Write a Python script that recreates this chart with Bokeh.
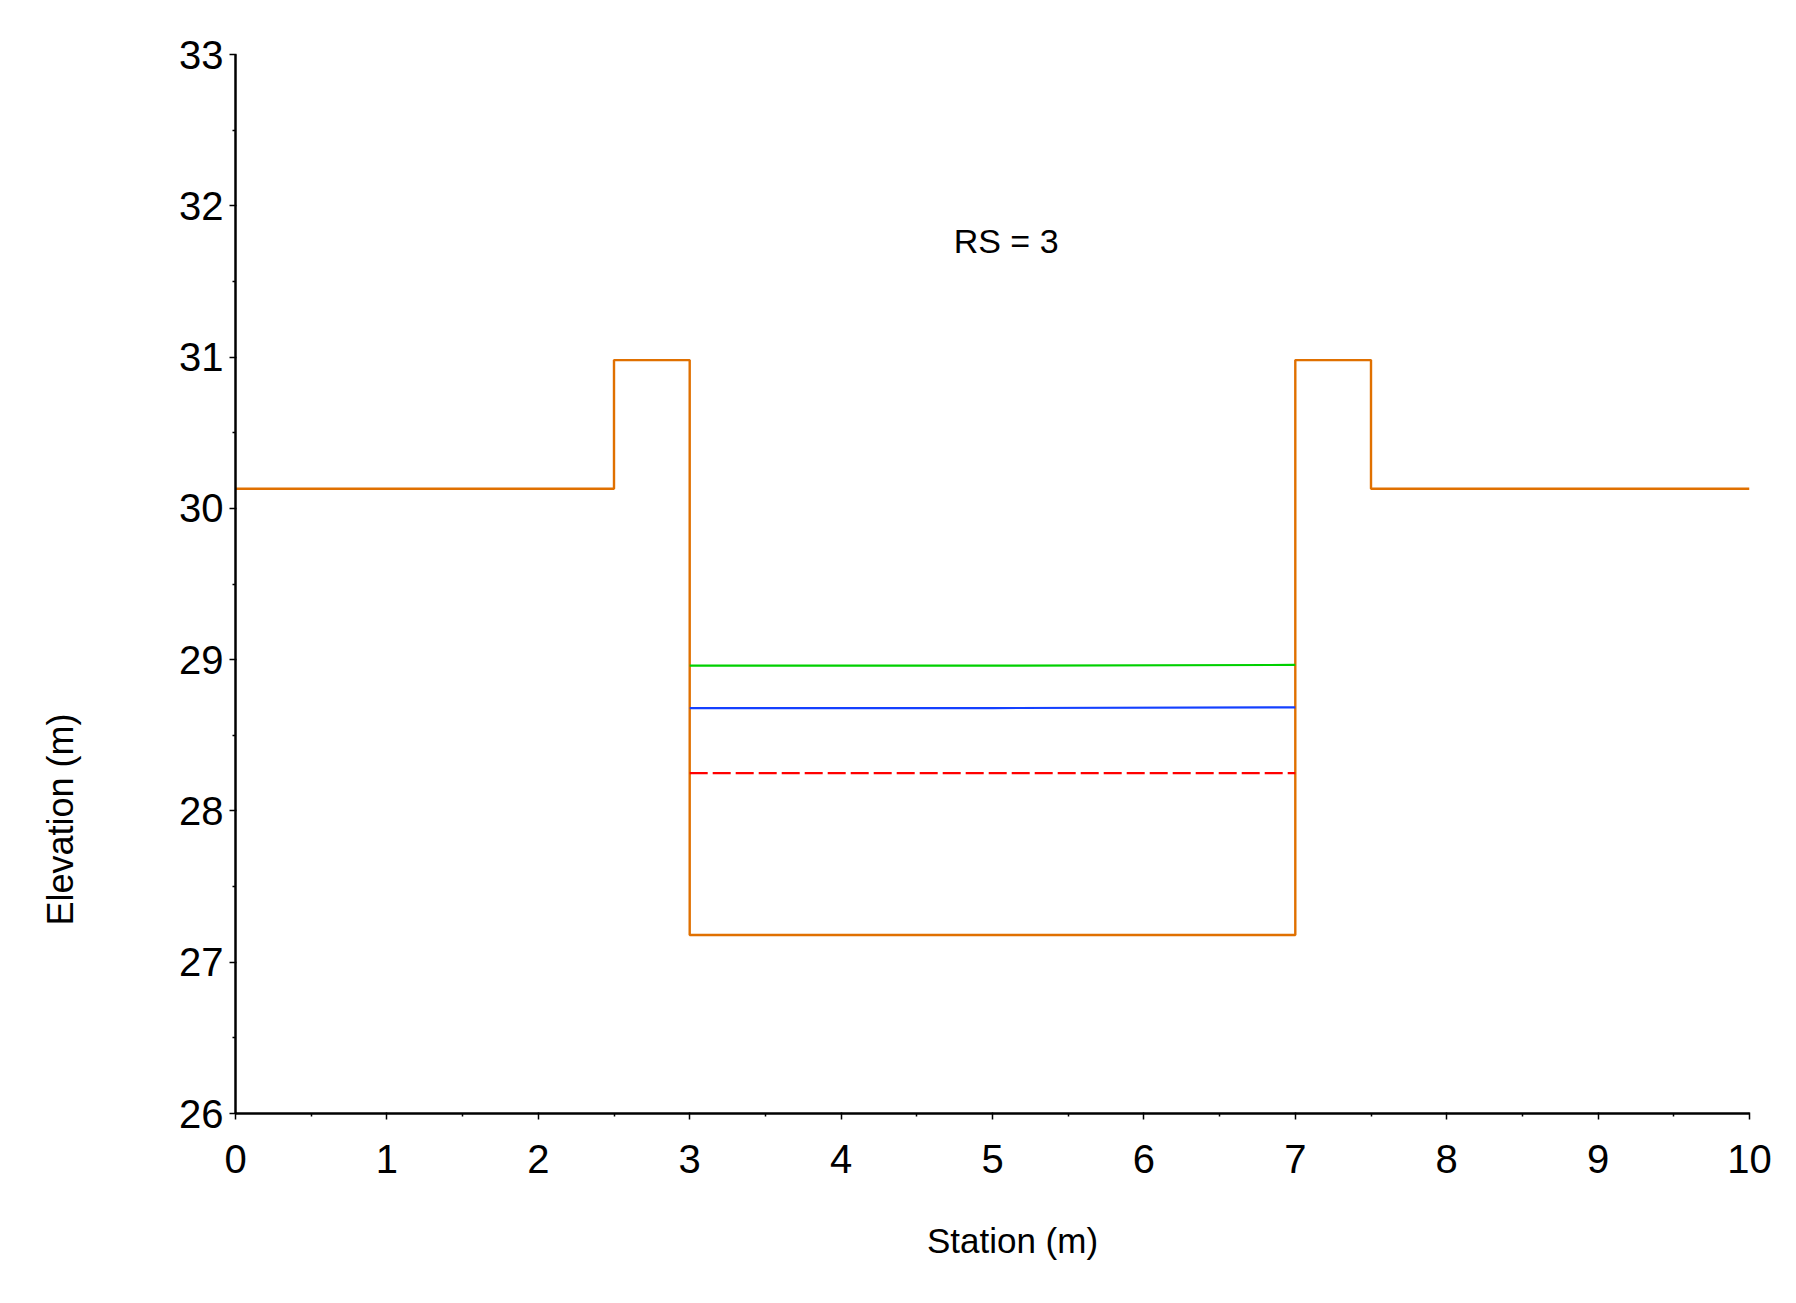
from bokeh.plotting import figure
from bokeh.models import Range1d, FixedTicker, Label
from bokeh.embed import file_html
from bokeh.resources import INLINE

# ---- data ----
station = [0, 2.5, 2.5, 3.0, 3.0, 5.0, 7.0, 7.0, 7.5, 7.5, 10.0]
ground = [30.13, 30.13, 30.98, 30.98, 27.18, 27.18, 27.18, 30.98, 30.98, 30.13, 30.13]

ws_x = [3.0, 5.0, 7.0]
egl = [28.96, 28.96, 28.965]      # green
wse = [28.68, 28.68, 28.685]      # blue
crit = [28.25, 28.25, 28.25]      # red dashed

x_ticks = [0, 1, 2, 3, 4, 5, 6, 7, 8, 9, 10]
x_minor = [0.5, 1.5, 2.5, 3.5, 4.5, 5.5, 6.5, 7.5, 8.5, 9.5]
y_ticks = [26, 27, 28, 29, 30, 31, 32, 33]
y_minor = [26.5, 27.5, 28.5, 29.5, 30.5, 31.5, 32.5]

title_text = "RS = 3"
x_label = "Station (m)"
y_label = "Elevation (m)"

FONT = "Liberation Sans"

p = figure(width=1780, height=1287, output_backend="svg", toolbar_location=None,
           x_range=Range1d(0, 10), y_range=Range1d(26, 33),
           min_border_left=235, min_border_right=31, min_border_top=54, min_border_bottom=174)
p.outline_line_color = None
p.grid.visible = False
p.background_fill_color = "white"
p.border_fill_color = "white"

for ax, ticks, minor in ((p.xaxis[0], x_ticks, x_minor), (p.yaxis[0], y_ticks, y_minor)):
    ax.ticker = FixedTicker(ticks=ticks, minor_ticks=minor)
    ax.axis_line_color = "black"
    ax.axis_line_width = 2.5
    ax.major_tick_line_color = "black"
    ax.major_tick_line_width = 1.5
    ax.minor_tick_line_color = "black"
    ax.minor_tick_line_width = 1.5
    ax.major_tick_in = 1
    ax.major_tick_out = 6
    ax.minor_tick_in = 0
    ax.minor_tick_out = 3
    ax.major_label_text_font = FONT
    ax.major_label_text_font_size = "40px"
    ax.major_label_text_color = "black"

p.xaxis[0].major_label_standoff = 25
p.yaxis[0].major_label_standoff = 6

p.line(station, ground, line_color="#E07000", line_width=2.4)
p.line(ws_x, egl, line_color="#00D000", line_width=2.2)
p.line(ws_x, wse, line_color="#1440FF", line_width=2.2)
p.line(ws_x, crit, line_color="#FF0000", line_width=2.2, line_dash="18 5")

p.add_layout(Label(x=5.09, y=31.77, text=title_text, text_font=FONT, text_font_size="34px",
                   text_align="center", text_baseline="middle", text_color="black"))

p.add_layout(Label(x=5.132, y=25.161, text=x_label, text_font=FONT, text_font_size="35px",
                   text_align="center", text_baseline="middle", text_color="black"), "below")
p.add_layout(Label(x=-1.156, y=27.943, text=y_label, text_font=FONT, text_font_size="36px",
                   angle=1.5707963, text_align="center", text_baseline="middle",
                   text_color="black"), "left")

open("out.html", "w").write(file_html(p, INLINE))
